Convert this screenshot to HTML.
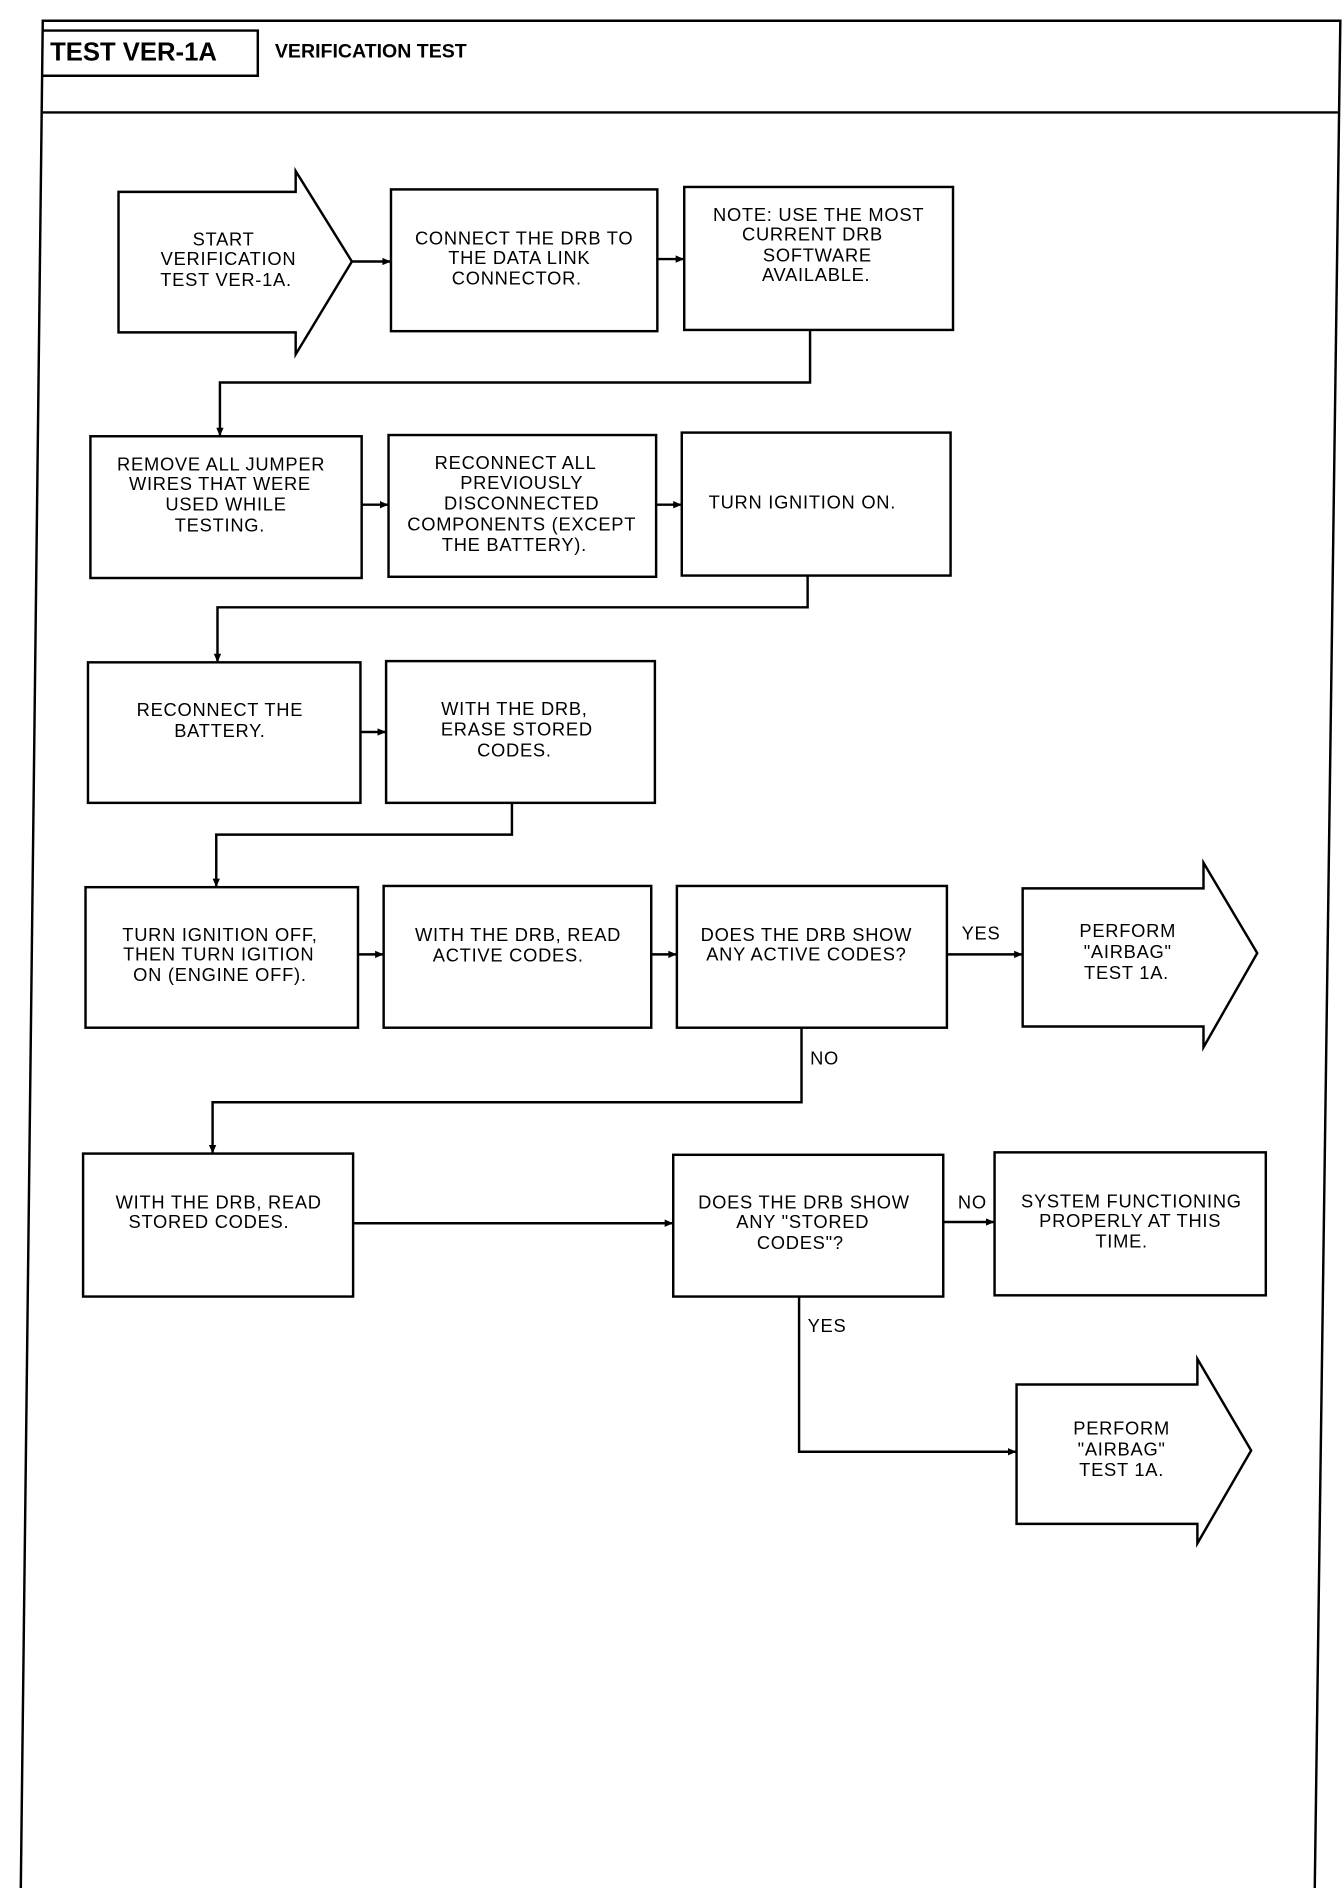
<!DOCTYPE html>
<html><head><meta charset="utf-8"><style>
html,body{margin:0;padding:0;background:#fff;}
svg{display:block;}
text{font-family:"Liberation Sans",sans-serif;font-size:15px;fill:#000;letter-spacing:0.6px;dominant-baseline:middle;}
.c{text-anchor:middle;}
</style></head><body>
<svg width="1344" height="1888" viewBox="0 0 1100 1545" preserveAspectRatio="none" xmlns="http://www.w3.org/2000/svg">
<g fill="none" stroke="#000" stroke-width="2">
<polygon points="35,17 1097,17 1076,1550 17,1547"/>
<line x1="35" y1="92" x2="1095" y2="92"/>
<polyline points="35,25 211,25 211,62 35,62"/>
<!-- row1 -->
<polygon points="97,157 242,157 242,140 288,214 242,290 242,272 97,272"/>
<rect x="320" y="155" width="218" height="116"/>
<rect x="560" y="153" width="220" height="117"/>
<line x1="288" y1="214" x2="320" y2="214"/><line x1="538" y1="212" x2="560" y2="212"/>
<polyline points="663,270 663,313 180,313 180,357"/>
<!-- row2 -->
<rect x="74" y="357" width="222" height="116"/>
<rect x="318" y="356" width="219" height="116"/>
<rect x="558" y="354" width="220" height="117"/>
<line x1="296" y1="413" x2="318" y2="413"/><line x1="537" y1="413" x2="558" y2="413"/>
<polyline points="661,471 661,497 178,497 178,542"/>
<!-- row3 -->
<rect x="72" y="542" width="223" height="115"/>
<rect x="316" y="541" width="220" height="116"/>
<line x1="295" y1="599" x2="316" y2="599"/>
<polyline points="419,657 419,683 177,683 177,726"/>
<!-- row4 -->
<rect x="70" y="726" width="223" height="115"/>
<rect x="314" y="725" width="219" height="116"/>
<rect x="554" y="725" width="221" height="116"/>
<polygon points="837,727 985,727 985,706 1029,780 985,857 985,840 837,840"/>
<line x1="293" y1="781" x2="314" y2="781"/><line x1="533" y1="781" x2="554" y2="781"/><line x1="775" y1="781" x2="837" y2="781"/>
<polyline points="656,841 656,902 174,902 174,944"/>
<!-- row5 -->
<rect x="68" y="944" width="221" height="117"/>
<rect x="551" y="945" width="221" height="116"/>
<rect x="814" y="943" width="222" height="117"/>
<line x1="289" y1="1001" x2="551" y2="1001"/><line x1="772" y1="1000" x2="814" y2="1000"/>
<polyline points="654,1061 654,1188 832,1188"/>
<polygon points="832,1133 980,1133 980,1112 1024,1187 980,1263 980,1247 832,1247"/>
</g>
<g fill="#000">
<polygon points="320,214 313,211 313,217"/><polygon points="560,212 553,209 553,215"/>
<polygon points="180,357 177,350 183,350"/>
<polygon points="318,413 311,410 311,416"/><polygon points="558,413 551,410 551,416"/>
<polygon points="178,542 175,535 181,535"/>
<polygon points="316,599 309,596 309,602"/>
<polygon points="177,726 174,719 180,719"/>
<polygon points="314,781 307,778 307,784"/><polygon points="554,781 547,778 547,784"/><polygon points="837,781 830,778 830,784"/>
<polygon points="174,944 171,937 177,937"/>
<polygon points="551,1001 544,998 544,1004"/><polygon points="814,1000 807,997 807,1003"/>
<polygon points="832,1188 825,1185 825,1191"/>
</g>
<text x="41" y="44" style="font-weight:bold;font-size:21px;letter-spacing:0">TEST VER-1A</text>
<text x="225" y="43" style="font-weight:bold;font-size:16px;letter-spacing:0">VERIFICATION TEST</text>
<text class="c" x="183" y="197">START</text><text class="c" x="187" y="213">VERIFICATION</text><text class="c" x="185" y="230">TEST VER-1A.</text>
<text class="c" x="429" y="196">CONNECT THE DRB TO</text><text class="c" x="425" y="212">THE DATA LINK</text><text class="c" x="423" y="229">CONNECTOR.</text>
<text class="c" x="670" y="177">NOTE: USE THE MOST</text><text class="c" x="665" y="193">CURRENT DRB</text><text class="c" x="669" y="210">SOFTWARE</text><text class="c" x="668" y="226">AVAILABLE.</text>
<text class="c" x="181" y="381">REMOVE ALL JUMPER</text><text class="c" x="180" y="397">WIRES THAT WERE</text><text class="c" x="185" y="414">USED WHILE</text><text class="c" x="180" y="431">TESTING.</text>
<text class="c" x="422" y="380">RECONNECT ALL</text><text class="c" x="427" y="396">PREVIOUSLY</text><text class="c" x="427" y="413">DISCONNECTED</text><text class="c" x="427" y="430">COMPONENTS (EXCEPT</text><text class="c" x="421" y="447">THE BATTERY).</text>
<text x="580" y="412">TURN IGNITION ON.</text>
<text class="c" x="180" y="582">RECONNECT THE</text><text class="c" x="180" y="599">BATTERY.</text>
<text class="c" x="421" y="581">WITH THE DRB,</text><text class="c" x="423" y="598">ERASE STORED</text><text class="c" x="421" y="615">CODES.</text>
<text class="c" x="180" y="766">TURN IGNITION OFF,</text><text class="c" x="179" y="782">THEN TURN IGITION</text><text class="c" x="180" y="799">ON (ENGINE OFF).</text>
<text class="c" x="424" y="766">WITH THE DRB, READ</text><text class="c" x="416" y="783">ACTIVE CODES.</text>
<text class="c" x="660" y="766">DOES THE DRB SHOW</text><text class="c" x="660" y="782">ANY ACTIVE CODES?</text>
<text x="787" y="765">YES</text>
<text class="c" x="923" y="763">PERFORM</text><text class="c" x="923" y="780">"AIRBAG"</text><text class="c" x="922" y="797">TEST 1A.</text>
<text x="663" y="867">NO</text>
<text class="c" x="179" y="985">WITH THE DRB, READ</text><text class="c" x="171" y="1001">STORED CODES.</text>
<text class="c" x="658" y="985">DOES THE DRB SHOW</text><text class="c" x="657" y="1001">ANY "STORED</text><text class="c" x="655" y="1018">CODES"?</text>
<text x="784" y="985">NO</text>
<text class="c" x="926" y="984">SYSTEM FUNCTIONING</text><text class="c" x="925" y="1000">PROPERLY AT THIS</text><text class="c" x="918" y="1017">TIME.</text>
<text x="661" y="1086">YES</text>
<text class="c" x="918" y="1170">PERFORM</text><text class="c" x="918" y="1187">"AIRBAG"</text><text class="c" x="918" y="1204">TEST 1A.</text>
</svg>
</body></html>
